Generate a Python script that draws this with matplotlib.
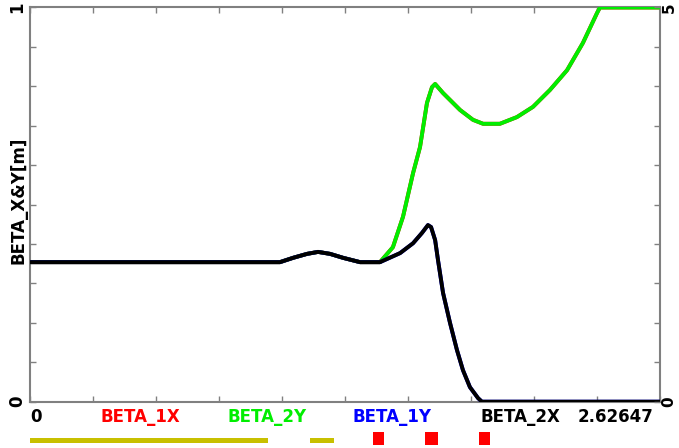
import matplotlib
matplotlib.use("Agg")
import matplotlib.pyplot as plt
import numpy as np

# ---- data ----
s_max = 2.62647
s_black = [0.0, 1.042, 1.097, 1.155, 1.201, 1.251, 1.305, 1.376, 1.459, 1.543, 1.597,
           1.634, 1.659, 1.672, 1.689, 1.701, 1.722, 1.751, 1.780, 1.805, 1.834,
           1.868, 1.884, 2.62647]
beta_2x = [0.354, 0.354, 0.365, 0.375, 0.380, 0.375, 0.365, 0.354, 0.354, 0.377, 0.402,
           0.428, 0.448, 0.443, 0.410, 0.359, 0.276, 0.200, 0.131, 0.080, 0.037,
           0.009, 0.0, 0.0]
s_green = [0.0, 1.042, 1.097, 1.155, 1.201, 1.251, 1.305, 1.376, 1.459, 1.513, 1.555,
           1.597, 1.626, 1.655, 1.676, 1.689, 1.722, 1.793, 1.847, 1.889, 1.959,
           2.030, 2.097, 2.168, 2.239, 2.305, 2.364, 2.376, 2.62647]
beta_2y = [0.354, 0.354, 0.365, 0.375, 0.380, 0.375, 0.365, 0.354, 0.354, 0.392, 0.469,
           0.580, 0.646, 0.758, 0.798, 0.806, 0.783, 0.740, 0.715, 0.705, 0.705,
           0.722, 0.748, 0.791, 0.841, 0.910, 0.986, 1.0, 1.0]
beta_1x = beta_2y
beta_1y = beta_2x

legend_labels = ["BETA_1X", "BETA_2Y", "BETA_1Y", "BETA_2X"]
legend_colors = ["#ff0000", "#00ee00", "#0000ff", "#000000"]
legend_pos = [0.175, 0.376, 0.574, 0.778]

# lattice elements (start, end)
drifts = [(0.0, 0.992), (1.167, 1.267)]
quads = [(1.430, 1.476), (1.647, 1.701), (1.872, 1.918)]

# ---- figure ----
fig = plt.figure(figsize=(6.79, 4.48), dpi=100)
L, R = 30 / 679, 660 / 679
B, T = (448 - 401.7) / 448, (448 - 7.5) / 448
ax = fig.add_axes([L, B, R - L, T - B])
gray = "#808080"

ax.plot(s_green, beta_1x, color="#ff0000", lw=2.8, solid_joinstyle="round", zorder=2)
ax.plot(s_green, beta_2y, color="#00ee00", lw=2.8, solid_joinstyle="round", zorder=3)
ax.plot(s_black, beta_1y, color="#0000ff", lw=2.8, solid_joinstyle="round", zorder=4)
ax.plot(s_black, beta_2x, color="#000000", lw=2.8, solid_joinstyle="round", zorder=5)

ax.set_xlim(0, s_max)
ax.set_ylim(0, 1)
for sp in ax.spines.values():
    sp.set_color(gray)
    sp.set_linewidth(1.5)

ax.set_xticks(np.linspace(0, s_max, 11))
ax.set_xticklabels([])
ax.set_yticks(np.linspace(0, 1, 11))
ax.set_yticklabels(["0"] + [""] * 9 + ["1"], rotation=90, va="center",
                   fontweight="bold", fontsize=12)
ax.tick_params(axis="both", direction="in", length=4, color=gray, width=1, pad=3)
ax.tick_params(axis="x", top=True, bottom=True)

ax2 = ax.twinx()
ax2.set_ylim(0, 5)
ax2.set_yticks(np.linspace(0, 5, 11))
ax2.set_yticklabels(["0"] + [""] * 9 + ["5"], rotation=90, va="center",
                    fontweight="bold", fontsize=11)
ax2.tick_params(axis="y", direction="in", length=4, color=gray, width=1, pad=1)
for sp in ax2.spines.values():
    sp.set_visible(False)

ax.set_ylabel("BETA_X&Y[m]", fontweight="bold", fontsize=12)
ax.yaxis.set_label_coords(-0.004, 0.512)

blend = matplotlib.transforms.blended_transform_factory(ax.transAxes, fig.transFigure)
ty = (448 - 417) / 448
ax.text(0.0, ty, "0", transform=blend, ha="left", va="center",
        fontweight="bold", fontsize=12)
for lab, col, xp in zip(legend_labels, legend_colors, legend_pos):
    ax.text(xp, ty, lab, color=col, transform=blend,
            ha="center", va="center", fontweight="bold", fontsize=12)
ax.text(0.93, ty, f"{s_max:g}", transform=blend,
        ha="center", va="center", fontweight="bold", fontsize=12)

# lattice strip
axl = fig.add_axes([L, (448 - 447) / 448, R - L, 20 / 448])
axl.set_xlim(0, s_max)
axl.set_ylim(0, 20)
axl.axis("off")
for a, b in drifts:
    axl.add_patch(plt.Rectangle((a, 4), b - a, 5, color="#c8c000", lw=0))
for a, b in quads:
    axl.add_patch(plt.Rectangle((a, 2), b - a, 13, color="#ff0000", lw=0))

fig.savefig("out.png", dpi=100)
